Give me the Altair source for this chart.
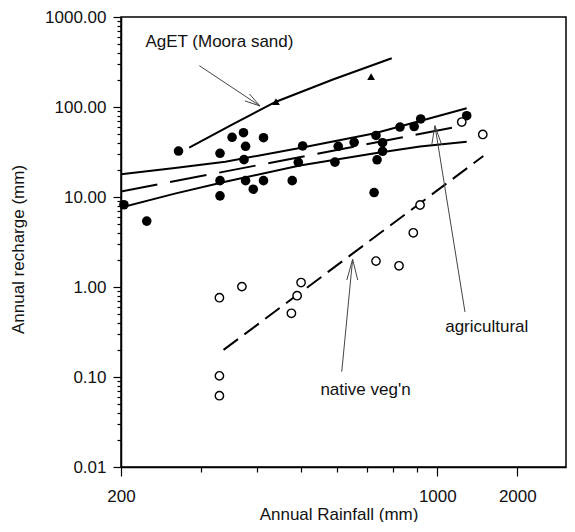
import altair as alt
import pandas as pd

# ---- data (rainfall mm, recharge mm) ----
filled_rain = [203, 228, 268, 331, 331, 331, 352, 373, 377, 374, 377, 392, 413, 413, 478,
               493, 504, 594, 604, 655, 732, 757, 757, 736, 725, 827, 889, 919, 1290]
filled_rech = [8.2, 5.4, 32.4, 30.6, 15.2, 10.3, 46.1, 51.8, 36.6, 26.0, 15.2, 12.2, 45.6, 15.2, 15.2,
               24.3, 36.9, 24.4, 36.6, 40.5, 48.3, 40.1, 32.2, 25.9, 11.2, 59.9, 60.7, 73.6, 80.1]

open_rain = [916, 885, 732, 823, 370, 330, 500, 490, 476, 330, 330, 1236, 1483]
open_rech = [8.15, 4.0, 1.94, 1.72, 1.01, 0.76, 1.12, 0.80, 0.51, 0.103, 0.062, 68.1, 49.5]

tri_rain = [440, 714]
tri_rech = [114.5, 218]

aget_rain = [283, 352, 440, 588, 793]
aget_rech = [35.3, 63.9, 114.5, 202, 348]

agri_rain = [200, 263, 340, 497, 728, 916, 1290]
agri_upper = [17.9, 21.0, 24.7, 35.0, 51.0, 69.9, 96.7]
agri_lower = [7.64, 10.9, 14.8, 22.4, 30.6, 36.4, 41.2]

agri_dash_rain = [200, 1260]
agri_dash_rech = [11.5, 62.3]

native_rain = [337, 1490]
native_rech = [0.2, 28.5]

# arrows: (from rain, from recharge, to rain, to recharge)
arrow_x1 = [298, 384.5, 375.6, 1271, 972, 1039, 615, 631, 667]
arrow_y1 = [287.6, 139.5, 116.9, 0.528, 37.8, 37.8, 0.1146, 1.196, 1.196]
arrow_x2 = [405.7, 405.7, 405.7, 988, 988, 988, 650, 650, 650]
arrow_y2 = [102.6, 102.6, 102.6, 62.0, 62.0, 62.0, 2.03, 2.03, 2.03]

label_text = ["AgET (Moora sand)", "agricultural", "native veg'n"]
label_rain = [330, 1535, 694]
label_rech = [467.7, 0.32, 0.0631]

x_tick_values = [200, 300, 400, 500, 600, 700, 800, 900, 1000, 2000]
x_major = [200, 1000, 2000]
y_decades = [0.01, 0.1, 1, 10, 100, 1000]
y_tick_values = sorted({round(m * d, 6) for d in y_decades[:-1] for m in range(1, 10)} | {1000})

# ---- scales / axes ----
xscale = alt.Scale(type="log", domain=[200, 1000, 2000, 3050],
                   range=[0, 316.3, 396.3, 445], nice=False)
yscale = alt.Scale(type="log", domain=[0.01, 1000], nice=False)

x_major_test = " || ".join(f"datum.value == {v}" for v in x_major)
y_major_test = "abs(log(datum.value)/LN10 - round(log(datum.value)/LN10)) < 0.001"

xaxis = alt.Axis(
    values=x_tick_values, title="Annual Rainfall (mm)", grid=False,
    labelExpr=f"({x_major_test}) ? format(datum.value, 'd') : ''",
    tickSize={"condition": {"test": x_major_test, "value": 9}, "value": 5},
    labelPadding=12, labelOverlap=False, labelFlush=False,
    titleX=217.5, titleY=52, titleBaseline="alphabetic",
)
yaxis = alt.Axis(
    values=y_tick_values, title="Annual recharge (mm)", grid=False,
    labelExpr=f"({y_major_test}) ? format(datum.value, '.2f') : ''",
    tickSize={"condition": {"test": y_major_test, "value": 8}, "value": 4},
    labelPadding=7, labelOverlap=False, labelFlush=False,
    titleX=-102.5, titleY=232, titleAngle=270, titleBaseline="middle", titleAlign="center",
)

X = alt.X("rain:Q", scale=xscale, axis=xaxis)
Y = alt.Y("rech:Q", scale=yscale, axis=yaxis)


def df(r, v):
    return pd.DataFrame({"rain": r, "rech": v})


def line(r, v, dash=None, width=2):
    kw = dict(color="black", strokeWidth=width, clip=True)
    if dash:
        kw["strokeDash"] = dash
    return alt.Chart(df(r, v)).mark_line(**kw).encode(x=X, y=Y, order=alt.Order("rain:Q"))


l_aget = line(aget_rain, aget_rech)
l_up = line(agri_rain, agri_upper)
l_low = line(agri_rain, agri_lower)
l_dash = line(agri_dash_rain, agri_dash_rech, dash=[37, 13])
l_native = line(native_rain, native_rech, dash=[18, 8])

arrows = alt.Chart(pd.DataFrame({"rain": arrow_x1, "rech": arrow_y1,
                                 "rain2": arrow_x2, "rech2": arrow_y2})).mark_rule(
    color="#444", strokeWidth=1).encode(x=X, y=Y, x2="rain2:Q", y2="rech2:Q")

filled = alt.Chart(df(filled_rain, filled_rech)).mark_point(
    shape="circle", filled=True, color="black", size=92, opacity=1).encode(x=X, y=Y)
opened = alt.Chart(df(open_rain, open_rech)).mark_point(
    shape="circle", filled=True, fill="white", stroke="black", strokeWidth=1.4,
    size=70, opacity=1).encode(x=X, y=Y)
tris = alt.Chart(df(tri_rain, tri_rech)).mark_point(
    shape="triangle-up", filled=True, color="black", size=60, opacity=1).encode(x=X, y=Y)

labels = alt.Chart(pd.DataFrame({"rain": label_rain, "rech": label_rech, "t": label_text})).mark_text(
    align="center", baseline="alphabetic", font="Liberation Sans", fontSize=17, color="#111"
).encode(x=X, y=Y, text="t:N")

chart = alt.layer(l_aget, l_up, l_low, l_dash, l_native, arrows, filled, opened, tris, labels).properties(
    width=445, height=450,
    autosize=alt.AutoSizeParams(type="none"),
    padding={"left": 113, "top": 9, "right": 1, "bottom": 55},
).configure_view(stroke="black", strokeWidth=1.5).configure_axis(
    domainColor="black", domainWidth=1.5, tickColor="black", tickWidth=1.2,
    labelFont="Liberation Sans", labelFontSize=17, labelColor="#111",
    titleFont="Liberation Sans", titleFontSize=17, titleFontWeight="normal", titleColor="#111",
)

chart.save("out.html", embed_options={"renderer": "svg", "actions": False})
